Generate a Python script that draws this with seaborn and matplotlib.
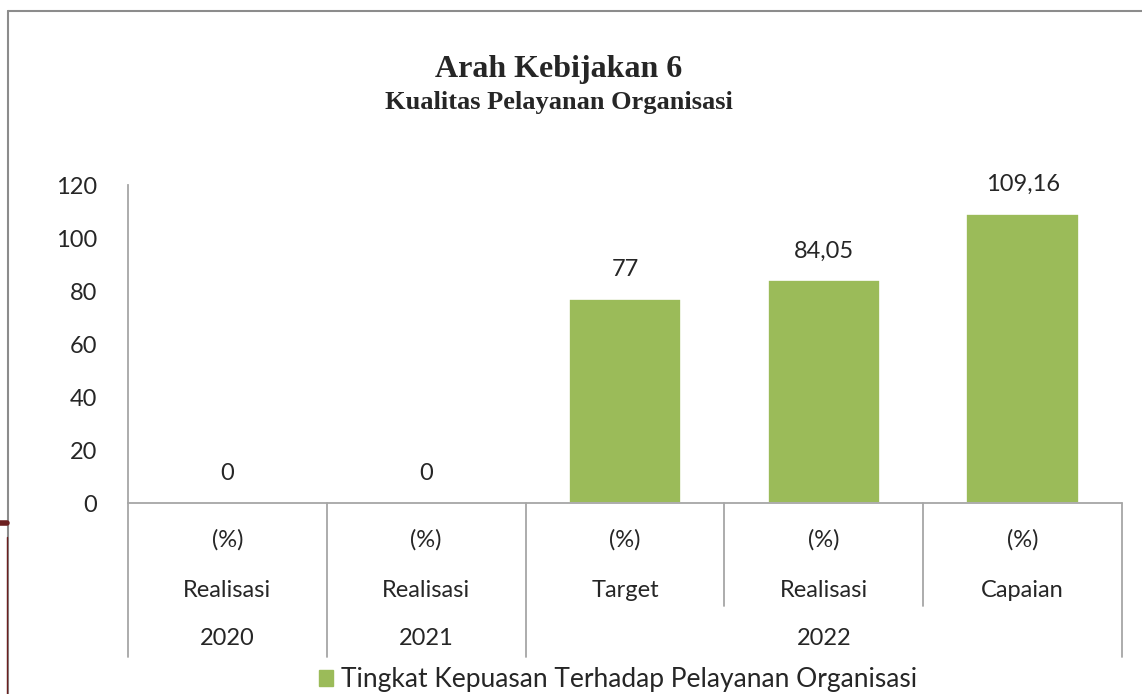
import matplotlib
matplotlib.use("Agg")
import matplotlib.pyplot as plt
import matplotlib.transforms as mtransforms
from matplotlib.patches import Rectangle
from matplotlib.lines import Line2D
import pandas as pd
import seaborn as sns

# data
years = ["2020", "2021", "2022", "2022", "2022"]
kinds = ["Realisasi", "Realisasi", "Target", "Realisasi", "Capaian"]
units = ["(%)", "(%)", "(%)", "(%)", "(%)"]
values = [0, 0, 77, 84.05, 109.16]
value_labels = ["0", "0", "77", "84,05", "109,16"]
series_name = "Tingkat Kepuasan Terhadap Pelayanan Organisasi"

GREEN = "#9BBB59"
GRID = "#A6A6A6"

sns.set_theme(style="white")
plt.rcParams["font.family"] = ["Lato", "DejaVu Sans"]

df = pd.DataFrame({"pos": [f"{i}" for i in range(len(values))], "value": values})

fig = plt.figure(figsize=(11.42, 6.94), dpi=100)
ax = fig.add_axes([0.1121, 0.2752, 0.8704, 0.4582])

sns.barplot(data=df, x="pos", y="value", color=GREEN, saturation=1,
            width=0.565, edgecolor="white", linewidth=1.2, ax=ax)

ax.set_ylim(0, 120)
ax.set_xlim(-0.5, len(values) - 0.5)
ax.set_yticks(range(0, 121, 20))
ax.tick_params(axis="y", labelsize=17, length=0, pad=22)
ax.set_xticks([])
ax.set_xlabel("")
ax.set_ylabel("")
for side in ["top", "right", "bottom"]:
    ax.spines[side].set_visible(False)
ax.spines["left"].set_color(GRID)
ax.spines["left"].set_linewidth(1.3)

# value labels above bars
for i, (v, lab) in enumerate(zip(values, value_labels)):
    ax.text(i, v + 7, lab, ha="center", va="bottom", fontsize=17)

# category table below the axis
trans = mtransforms.blended_transform_factory(ax.transData, ax.transAxes)
px = 1.0 / (0.4582 * 694)   # one pixel in axes-y units
row_unit = -37 * px
row_kind = -87 * px
row_year = -135 * px
short_end = -103 * px
long_end = -154 * px

n = len(values)
ax.plot([-0.5, n - 0.5], [0, 0], transform=trans, color=GRID, lw=1.3, clip_on=False)
ax.plot([-0.5, -0.5], [0, long_end], transform=trans, color=GRID, lw=1.3, clip_on=False)
ax.plot([n - 0.5, n - 0.5], [0, long_end], transform=trans, color=GRID, lw=1.3, clip_on=False)
for i in range(n - 1):
    end = long_end if years[i] != years[i + 1] else short_end
    ax.plot([i + 0.5, i + 0.5], [0, end], transform=trans, color=GRID, lw=1.3, clip_on=False)

for i in range(n):
    ax.text(i, row_unit, units[i], transform=trans, ha="center", va="center", fontsize=17)
    ax.text(i, row_kind, kinds[i], transform=trans, ha="center", va="center", fontsize=17)

# year labels centred over their groups
groups = {}
for i, y in enumerate(years):
    groups.setdefault(y, []).append(i)
for y, idx in groups.items():
    ax.text(sum(idx) / len(idx), row_year, y, transform=trans, ha="center", va="center",
            fontsize=17)

# title
fig.text(0.489, 1 - 70 / 694, "Arah Kebijakan 6", ha="center", va="center",
         fontsize=23, fontweight="bold", family="Liberation Serif")
fig.text(0.489, 1 - 102 / 694, "Kualitas Pelayanan Organisasi", ha="center", va="center",
         fontsize=19, fontweight="bold", family="Liberation Serif")

# legend
handle = Rectangle((0, 0), 1, 1, color=GREEN)
fig.legend([handle], [series_name], loc="center", bbox_to_anchor=(0.541, 1 - 680 / 694),
           frameon=False, fontsize=19, handlelength=0.55, handleheight=0.55,
           handletextpad=0.3)

# chart frame
fig.add_artist(Line2D([8 / 1142, 8 / 1142], [0, 1 - 11 / 694], color="#8C8C8C", lw=1.5))
fig.add_artist(Line2D([8 / 1142, 1], [1 - 11 / 694, 1 - 11 / 694], color="#8C8C8C", lw=1.5))
# page edge marks at the left
fig.add_artist(Line2D([0, 7 / 1142], [1 - 523 / 694, 1 - 523 / 694], color="#6B1F1F", lw=4))
fig.add_artist(Line2D([7 / 1142, 7 / 1142], [0, 1 - 537 / 694], color="#6B1F1F", lw=1))

fig.savefig("out.png", dpi=100)
